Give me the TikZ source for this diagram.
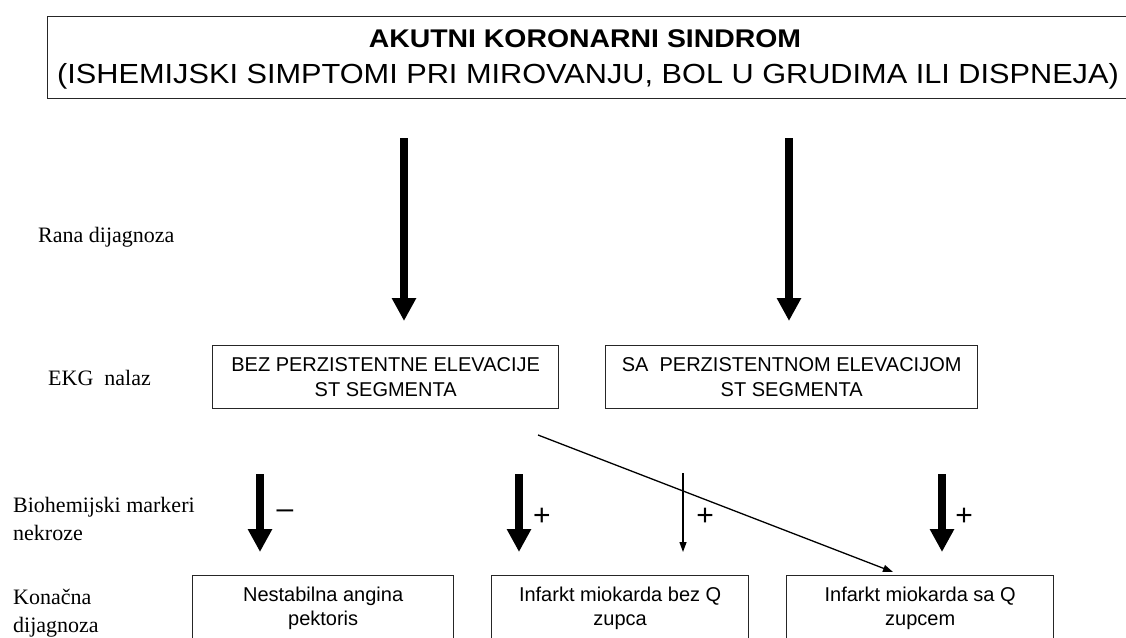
\documentclass[tikz,border=0pt]{standalone}
\usepackage{fontspec}
\setmainfont{Liberation Serif}
\newfontfamily\arialf{Liberation Sans}
\usetikzlibrary{arrows.meta,calc}
\begin{document}
\begin{tikzpicture}[x=1pt,y=-1pt,
  frame/.style={draw=black!85,line width=1.3pt,inner sep=0pt},
  boxtext/.style={font=\arialf\fontsize{20}{25}\selectfont,align=center,inner sep=0pt},
  bottext/.style={font=\arialf\fontsize{20}{24}\selectfont,align=center,inner sep=0pt},
  sidelabel/.style={font=\fontsize{22}{28}\selectfont,anchor=west,inner sep=0pt,align=left},
  bigarrow/.style={line width=8pt,-{Triangle[width=23pt,length=23pt]}},
  thinarrow/.style={line width=1.3pt,-{Triangle[width=7pt,length=10pt]}},
  sign/.style={font=\arialf\fontsize{30}{30}\selectfont,inner sep=0pt}]
\useasboundingbox[fill=white] (0,0) rectangle (1126,637);

% top box
\node[frame,anchor=north west,minimum width=1081pt,minimum height=82pt] (acs) at (47,16) {};
\node[font=\arialf\bfseries\fontsize{28.4}{30}\selectfont,inner sep=0pt] (title) at (585,39) {\scalebox{1}[0.9]{AKUTNI KORONARNI SINDROM}};
\node[font=\arialf\fontsize{30.7}{32}\selectfont,inner sep=0pt] (sub) at (588,76) {\scalebox{1}[0.9]{(ISHEMIJSKI SIMPTOMI PRI MIROVANJU, BOL U GRUDIMA ILI DISPNEJA)}};

% side labels
\node[sidelabel] (rana) at (38,237) {Rana dijagnoza};
\node[sidelabel] (ekg) at (48,378) {EKG\ \ nalaz};
\node[sidelabel] (bio) at (13,519) {Biohemijski markeri\\nekroze};
\node[sidelabel] (kon) at (13,613) {Kona\v{c}na\\dijagnoza};

% middle boxes
\node[frame,anchor=north west,minimum width=346pt,minimum height=63pt] (bez) at (212,345) {};
\node[boxtext] (beztxt) at (bez.center) {BEZ PERZISTENTNE ELEVACIJE\\ST SEGMENTA};
\node[frame,anchor=north west,minimum width=372pt,minimum height=63pt] (sa) at (605,345) {};
\node[boxtext] (satxt) at (sa.center) {SA\ \ PERZISTENTNOM ELEVACIJOM\\ST SEGMENTA};

% bottom boxes
\node[frame,anchor=north west,minimum width=261pt,minimum height=90pt] (nap) at (192,575) {};
\node[bottext] (naptxt) at ($(nap.north)+(0,33)$) {Nestabilna angina\\pektoris};
\node[frame,anchor=north west,minimum width=257pt,minimum height=90pt] (nstemi) at (491,575) {};
\node[bottext] (nstemitxt) at ($(nstemi.north)+(0,33)$) {Infarkt miokarda bez Q\\zupca};
\node[frame,anchor=north west,minimum width=267pt,minimum height=90pt] (stemi) at (786,575) {};
\node[bottext] (stemitxt) at ($(stemi.north)+(0,33)$) {Infarkt miokarda sa Q\\zupcem};

% arrow end points
\coordinate (t1) at (404,138);
\coordinate (h1) at (404,321);
\coordinate (t2) at (789,138);
\coordinate (h2) at (789,321);
\coordinate (b1s) at (260,474);
\coordinate (b1e) at (260,552);
\coordinate (b2s) at (519,474);
\coordinate (b2e) at (519,552);
\coordinate (b3s) at (683,473);
\coordinate (b3e) at (683,552);
\coordinate (b4s) at (942,474);
\coordinate (b4e) at (942,552);
\coordinate (ds) at (538,435);
\coordinate (de) at (893,572);

\draw[bigarrow] (t1) -- (h1);
\draw[bigarrow] (t2) -- (h2);
\draw[bigarrow] (b1s) -- (b1e);
\draw[bigarrow] (b2s) -- (b2e);
\draw[thinarrow] (b3s) -- (b3e);
\draw[bigarrow] (b4s) -- (b4e);
\draw[thinarrow] (ds) -- (de);

% signs
\node[sign] (m1) at (285,514) {\textendash};
\node[sign] (p2) at (542,517) {+};
\node[sign] (p3) at (705,517) {+};
\node[sign] (p4) at (964,517) {+};
\end{tikzpicture}
\end{document}
